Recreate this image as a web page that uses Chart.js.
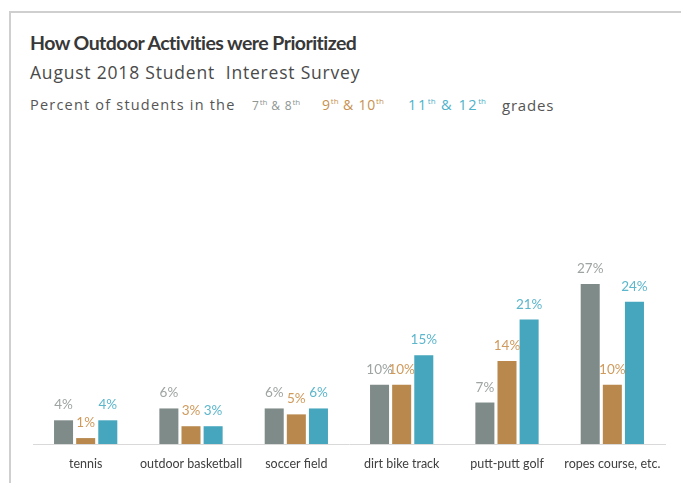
<!DOCTYPE html>
<html>
<head>
<meta charset="utf-8">
<script src="https://cdn.jsdelivr.net/npm/chart.js@4.4.1/dist/chart.umd.min.js"></script>
<style>
  html, body { margin: 0; padding: 0; background: #fff; }
  body { width: 681px; height: 483px; position: relative; overflow: hidden; font-family: Lato, "Open Sans", sans-serif; }
  .frame { position: absolute; left: 9px; top: 11px; right: -2px; bottom: -2px; border: 2px solid #cfcfcf; border-right: none; border-bottom: none; }
  .title { position: absolute; left: 30px; top: 31px; font-size: 19.5px; letter-spacing: -0.55px; font-weight: 700; color: #383838; white-space: nowrap; }
  .sub { position: absolute; left: 30px; top: 60px; font-family: "Open Sans", sans-serif; font-size: 17.5px; letter-spacing: 0.8px; color: #4a4a4a; white-space: nowrap; }
  .leg { position: absolute; top: 95px; font-family: "Open Sans", sans-serif; letter-spacing: 0.8px; white-space: nowrap; }
  .leg sup { font-size: 8px; letter-spacing: 0; }
  .p1 { left: 30px; font-size: 14.5px; letter-spacing: 1.2px; color: #555; }
  .g7 { left: 252px; font-size: 12px; color: #8e9593; top: 96px; }
  .g9 { left: 322px; font-size: 14px; color: #c8914f; }
  .g11 { left: 408px; font-size: 14.5px; color: #4fb2c9; letter-spacing: 1.6px; }
  .gr { left: 502px; font-size: 15px; color: #555; }
  #wrap { position: absolute; left: 0; top: 190px; width: 681px; height: 293px; }
</style>
</head>
<body>
<div class="frame"></div>
<div class="title">How Outdoor Activities were Prioritized</div>
<div class="sub">August 2018 Student&nbsp; Interest Survey</div>
<div class="leg p1">Percent of students in the</div>
<div class="leg g7">7<sup>th</sup> &amp; 8<sup>th</sup></div>
<div class="leg g9">9<sup>th</sup> &amp; 10<sup>th</sup></div>
<div class="leg g11">11<sup>th</sup> &amp; 12<sup>th</sup></div>
<div class="leg gr">grades</div>
<div id="wrap"><canvas id="c"></canvas></div>
<script>
// activities and percent of students per grade band
const activities = ["tennis", "outdoor basketball", "soccer field", "dirt bike track", "putt-putt golf", "ropes course, etc."];
const grades7_8 = [4, 6, 6, 10, 7, 27];
const grades9_10 = [1, 3, 5, 10, 14, 10];
const grades11_12 = [4, 3, 6, 15, 21, 24];

const barColors = ["#7f8b88", "#b8884d", "#45a6bd"];
const labelColors = ["#9ea4a2", "#cf9a5c", "#5cb6cc"];

// value labels above each bar
const valueLabels = {
  id: "valueLabels",
  afterDatasetsDraw(chart) {
    const ctx = chart.ctx;
    ctx.save();
    ctx.font = "13.5px Lato, sans-serif";
    ctx.textAlign = "center";
    ctx.textBaseline = "alphabetic";
    chart.data.datasets.forEach((ds, i) => {
      const meta = chart.getDatasetMeta(i);
      ctx.fillStyle = labelColors[i];
      meta.data.forEach((bar, j) => {
        ctx.fillText(ds.data[j] + "%", bar.x, bar.y - 11);
      });
    });
    ctx.restore();
  }
};

new Chart(document.getElementById("c"), {
  type: "bar",
  data: {
    labels: activities,
    datasets: [
      { label: "7th & 8th", data: grades7_8, backgroundColor: barColors[0] },
      { label: "9th & 10th", data: grades9_10, backgroundColor: barColors[1] },
      { label: "11th & 12th", data: grades11_12, backgroundColor: barColors[2] }
    ]
  },
  options: {
    responsive: true,
    maintainAspectRatio: false,
    animation: false,
    categoryPercentage: 0.63,
    barPercentage: 0.86,
    layout: { padding: { left: 33, right: 16, top: 17, bottom: 0 } },
    plugins: { legend: { display: false }, tooltip: { enabled: false } },
    scales: {
      y: { display: false, min: 0, max: 40 },
      x: {
        grid: { display: false, drawTicks: false },
        border: { display: true, color: "#d9d9d9", width: 1 },
        ticks: { color: "#404040", font: { family: "Lato, sans-serif", size: 12.5 }, padding: 12, maxRotation: 0, minRotation: 0, autoSkip: false },
        afterFit: (s) => { s.height = 39; }
      }
    }
  },
  plugins: [valueLabels]
});
</script>
</body>
</html>
